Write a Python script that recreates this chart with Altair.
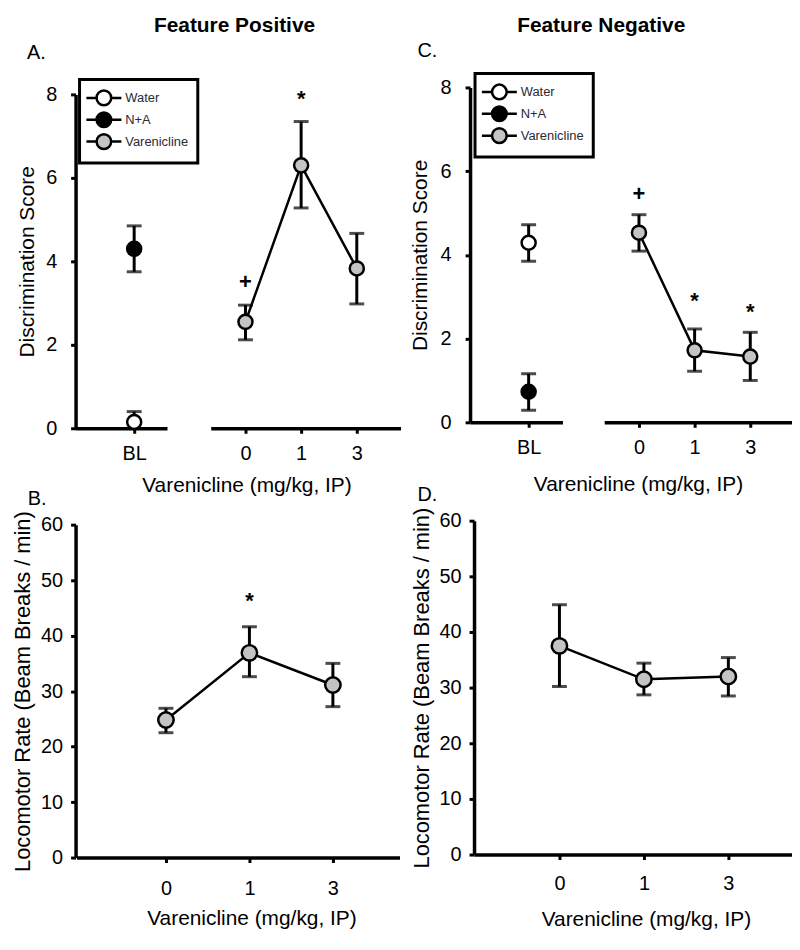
import altair as alt
import pandas as pd

FONT = "Liberation Sans"
GROUPS = ["Water", "N+A", "Varenicline"]
FILLS = ["#ffffff", "#000000", "#c4c4c4"]
DOSES = ["0", "1", "3"]

# ---- Feature Positive: discrimination (A) ----
fp_bl_group = ["Water", "N+A"]
fp_bl_mean = [0.15, 4.30]
fp_bl_lo = [0.00, 3.75]
fp_bl_hi = [0.40, 4.85]
fp_var_mean = [2.55, 6.30, 3.83]
fp_var_lo = [2.12, 5.28, 2.98]
fp_var_hi = [2.95, 7.35, 4.67]
fp_sig_text = ["+", "*"]
fp_sig_dose = ["0", "1"]
fp_sig_y = [3.50, 7.90]

# ---- Feature Negative: discrimination (C) ----
fn_bl_group = ["Water", "N+A"]
fn_bl_mean = [4.29, 0.73]
fn_bl_lo = [3.85, 0.29]
fn_bl_hi = [4.72, 1.16]
fn_var_mean = [4.53, 1.72, 1.57]
fn_var_lo = [4.09, 1.22, 1.00]
fn_var_hi = [4.96, 2.23, 2.15]
fn_sig_text = ["+", "*", "*"]
fn_sig_dose = ["0", "1", "3"]
fn_sig_y = [5.45, 2.90, 2.63]

# ---- Feature Positive: locomotor (B) ----
lp_mean = [24.8, 36.9, 31.1]
lp_lo = [22.5, 32.6, 27.2]
lp_hi = [26.9, 41.6, 35.0]
lp_sig_text = ["*"]
lp_sig_dose = ["1"]
lp_sig_y = [46.3]

# ---- Feature Negative: locomotor (D) ----
ln_mean = [37.5, 31.5, 32.0]
ln_lo = [30.2, 28.7, 28.5]
ln_hi = [44.9, 34.4, 35.4]

# legend glyph: circle with a short line on each side
SYMBOL = ("M-2.2,0L-0.92,0M0.92,0L2.2,0M0.92,0A0.92,0.92,0,1,1,-0.92,0"
          "A0.92,0.92,0,1,1,0.92,0Z")


def fill_enc(legend_xy=None):
    if legend_xy is None:
        legend = None
    else:
        legend = alt.Legend(
            title=None, orient="none", legendX=legend_xy[0], legendY=legend_xy[1],
            symbolType=SYMBOL, symbolSize=256, symbolOffset=6, symbolStrokeColor="black",
            symbolStrokeWidth=2.5, labelFont=FONT, labelFontSize=13,
            labelColor="#2a2a35", labelOffset=12, padding=9, rowPadding=-4,
            strokeColor="black", fillColor="white",
        )
    return alt.Fill("group:N", scale=alt.Scale(domain=GROUPS, range=FILLS), legend=legend)


def yenc(field, ydom, yrange, yvals, ytitle, show_axis, title_size, offset=0,
         label_size=20, label_pad=14, title_pad=11):
    if show_axis:
        axis = alt.Axis(values=yvals, title=ytitle, titleFontSize=title_size,
                        labelFontSize=label_size, labelPadding=label_pad,
                        titlePadding=title_pad, offset=offset)
    else:
        axis = None
    return alt.Y(field, type="quantitative",
                 scale=alt.Scale(domain=ydom, range=yrange, nice=False, zero=False),
                 axis=axis)


def xenc(domain, rng, padding, align, xtitle, title_x, title_y, label_pad=10):
    sc = dict(type="point", domain=domain, padding=padding, align=align)
    if rng is not None:
        sc["range"] = rng
    if xtitle:
        axis = alt.Axis(title=xtitle, titleX=title_x, titleY=title_y, titleAlign="center",
                        titleBaseline="top", titleFontSize=21, labelAngle=0,
                        labelPadding=label_pad, labelFontSize=20)
    else:
        axis = alt.Axis(title=None, labelAngle=0, labelPadding=label_pad, labelFontSize=20)
    return alt.X("x:N", sort=domain, scale=alt.Scale(**sc), axis=axis)


def baseline_panel(groups, mean, lo, hi, width, height, yrange, align, legend_xy,
                   letter, letter_dx, letter_offset, ytitle, title_pad):
    df = pd.DataFrame({"x": ["BL"] * len(groups), "group": groups,
                       "mean": mean, "lo": lo, "hi": hi})
    X = xenc(["BL"], None, 0.5, align, None, 0, 0)

    def Y(field):
        return yenc(field, [0, 8], yrange, [0, 2, 4, 6, 8], ytitle, True, 21,
                    title_pad=title_pad)

    base = alt.Chart(df)
    err = base.mark_errorbar(ticks=True, size=15, thickness=3, color="black").encode(
        x=X, y=Y("lo"), y2="hi")
    pts = base.mark_point(filled=True, shape="circle", size=200, stroke="black",
                          strokeWidth=2.5, opacity=1).encode(
        x=X, y=Y("mean"), fill=fill_enc(legend_xy))
    return alt.layer(err, pts).properties(
        width=width, height=height,
        title=alt.TitleParams(letter, anchor="start", frame="group", dx=letter_dx,
                              offset=letter_offset, fontSize=20, fontWeight="normal", font=FONT))


def dose_panel(mean, lo, hi, sig_text, sig_dose, sig_y, width, height, ydom, yrange, yvals,
               xrange, padding, align, show_y, ytitle, ytitle_size, xtitle_x, xtitle_y,
               title, title_kw, psize, yoffset=0, label_size=20, label_pad=14, title_pad=11,
               xlabel_pad=10):
    df = pd.DataFrame({"x": DOSES, "group": ["Varenicline"] * 3,
                       "mean": mean, "lo": lo, "hi": hi})
    sig = pd.DataFrame({"x": sig_dose, "t": sig_text, "y": sig_y})
    X = xenc(DOSES, xrange, padding, align, "Varenicline (mg/kg, IP)", xtitle_x, xtitle_y,
             xlabel_pad)

    def Y(field):
        return yenc(field, ydom, yrange, yvals, ytitle, show_y, ytitle_size, yoffset,
                    label_size, label_pad, title_pad)

    base = alt.Chart(df)
    err = base.mark_errorbar(ticks=True, size=15, thickness=3, color="black").encode(
        x=X, y=Y("lo"), y2="hi")
    line = base.mark_line(color="black", strokeWidth=2.5).encode(x=X, y=Y("mean"))
    pts = base.mark_point(filled=True, shape="circle", size=psize, stroke="black",
                          strokeWidth=2.5, opacity=1).encode(
        x=X, y=Y("mean"), fill=fill_enc(None))
    layers = [err, line, pts]
    if len(sig_text):
        txt = alt.Chart(sig).mark_text(fontSize=22, fontWeight="bold", font=FONT,
                                       baseline="middle", color="black").encode(
            x=X, y=Y("y"), text="t:N")
        layers.append(txt)
    return alt.layer(*layers).properties(width=width, height=height,
                                         title=alt.TitleParams(title, **title_kw))


A_left = baseline_panel(fp_bl_group, fp_bl_mean, fp_bl_lo, fp_bl_hi, 92, 343, [343, 7],
                        0.641, (4, -8), "A.", -49, 15, "Discrimination Score", 8)
A_right = dose_panel(fp_var_mean, fp_var_lo, fp_var_hi, fp_sig_text, fp_sig_dose, fp_sig_y,
                     305, 343, [0, 8], [343, 7], [0, 2, 4, 6, 8], [44, 235], 0.705, 0.443,
                     False, None, 21, 80, 47, "Feature Positive",
                     dict(anchor="middle", frame="group", dx=-84.5, offset=52,
                          fontSize=21, fontWeight="bold", font=FONT), 200)
C_left = baseline_panel(fn_bl_group, fn_bl_mean, fn_bl_lo, fn_bl_hi, 93, 337, [337, 0],
                        0.634, (5, -14), "C.", -53, 11, "Discrimination Score", 10)
C_right = dose_panel(fn_var_mean, fn_var_lo, fn_var_hi, fn_sig_text, fn_sig_dose, fn_sig_y,
                     231, 337, [0, 8], [337, 0], [0, 2, 4, 6, 8], [42, 231], 0.6875, 0.4545,
                     False, None, 21, 76, 52, "Feature Negative",
                     dict(anchor="middle", frame="group", dx=-76.5, offset=52,
                          fontSize=21, fontWeight="bold", font=FONT), 200)
B = dose_panel(lp_mean, lp_lo, lp_hi, lp_sig_text, lp_sig_dose, lp_sig_y,
               92, 339, [0, 60], [339, 4], [0, 10, 20, 30, 40, 50, 60], [1, 326], 0.9345, 0.573,
               True, "Locomotor Rate (Beam Breaks / min)", 22, 177, 50, "B.",
               dict(anchor="start", frame="group", dx=-48, offset=2,
                    fontSize=20, fontWeight="normal", font=FONT), 240,
               label_size=20, label_pad=8, title_pad=6, xlabel_pad=16)
D = dose_panel(ln_mean, ln_lo, ln_hi, [], [], [],
               93, 336, [0, 60], [336, 0], [0, 10, 20, 30, 40, 50, 60], [4, 324], 0.8825, 0.573,
               True, "Locomotor Rate (Beam Breaks / min)", 22, 177, 54, "D.",
               dict(anchor="start", frame="group", dx=-53, offset=2,
                    fontSize=20, fontWeight="normal", font=FONT), 240, yoffset=-4,
               label_size=20, label_pad=8, title_pad=6, xlabel_pad=14)

# invisible grid filler so that panel D sits in the third grid column
spacer = alt.Chart(pd.DataFrame({"v": [0]})).mark_point(opacity=0).encode(
    x=alt.X("v:Q", axis=None), y=alt.Y("v:Q", axis=None)
).properties(width=10, height=10)

chart = alt.concat(
    A_left, A_right, C_left, C_right, B, spacer, D,
    columns=4, spacing={"row": 93, "column": 0}, bounds="flush", align="none",
).resolve_scale(fill="independent").properties(
    padding={"left": 3, "top": 4, "right": 0, "bottom": 5}
).configure_view(stroke=None).configure_axis(
    domainColor="black", domainWidth=3.5, tickColor="black", tickWidth=3, tickSize=5,
    labelFont=FONT, labelColor="black", titleFont=FONT, titleColor="black",
    titleFontWeight="normal", grid=False,
).configure_title(color="black").configure_legend(strokeWidth=3)

chart.save("out.html", embed_options={"renderer": "svg", "actions": False})
